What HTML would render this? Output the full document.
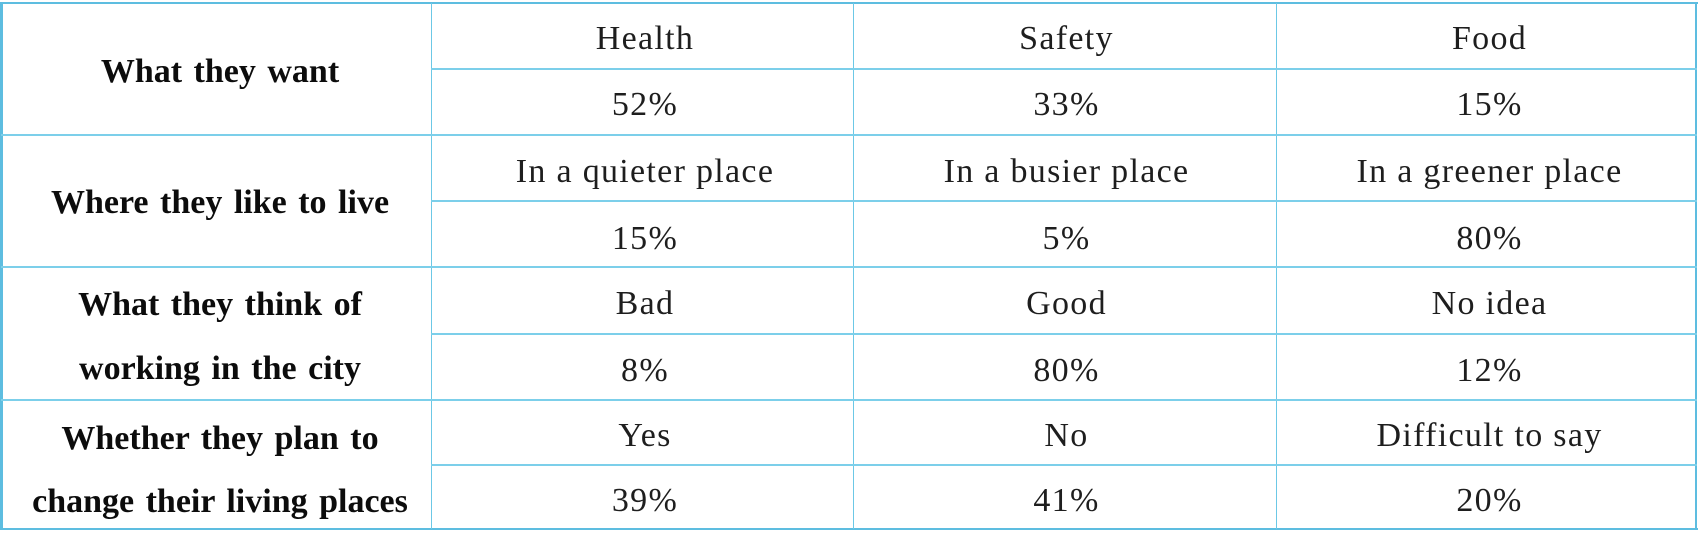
<!DOCTYPE html>
<html>
<head>
<meta charset="utf-8">
<style>
  html, body { margin:0; padding:0; background:#fff; }
  body { width:1700px; height:533px; position:relative; overflow:hidden; }
  .h { position:absolute; background:#7ccfea; height:2px; }
  .v { position:absolute; background:#6cc8e6; width:1px; }
  .ob { position:absolute; background:#5dbde0; }
  .t { position:absolute; font-family:"Liberation Serif", serif; font-size:34px; line-height:34px; height:34px; text-align:center; white-space:nowrap; }
  .r { color:#1e1e1e; letter-spacing:1.3px; }
  .b { color:#0c0c0c; font-weight:bold; word-spacing:3px; left:0; width:440px; }
  .c2 { left:434px; width:422px; }
  .c3 { left:855px; width:423px; }
  .c4 { left:1279px; width:421px; }
</style>
</head>
<body>
<!-- outer border -->
<div class="ob" style="left:0;top:2px;width:1698px;height:2px;"></div>
<div class="ob" style="left:0;top:528px;width:1698px;height:2px;"></div>
<div class="ob" style="left:0;top:2px;width:3px;height:528px;"></div>
<div class="ob" style="left:1695px;top:2px;width:2px;height:528px;"></div>

<!-- vertical inner lines -->
<div class="v" style="left:431px;top:3px;height:526px;"></div>
<div class="v" style="left:853px;top:3px;height:526px;"></div>
<div class="v" style="left:1276px;top:3px;height:526px;"></div>

<!-- full-width group separators -->
<div class="h" style="left:1px;top:134px;width:1696px;"></div>
<div class="h" style="left:1px;top:266px;width:1696px;"></div>
<div class="h" style="left:1px;top:399px;width:1696px;"></div>

<!-- sub-row separators (value columns only) -->
<div class="h" style="left:431px;top:68px;width:1266px;"></div>
<div class="h" style="left:431px;top:200px;width:1266px;"></div>
<div class="h" style="left:431px;top:333px;width:1266px;"></div>
<div class="h" style="left:431px;top:464px;width:1266px;"></div>

<!-- header column -->
<div class="t b" style="top:54.5px;">What they want</div>
<div class="t b" style="top:185.5px;">Where they like to live</div>
<div class="t b" style="top:288px;">What they think of</div>
<div class="t b" style="top:351.5px;">working in the city</div>
<div class="t b" style="top:421.5px;">Whether they plan to</div>
<div class="t b" style="top:484.5px;">change their living places</div>

<!-- row 1 -->
<div class="t r c2" style="top:21.5px;">Health</div>
<div class="t r c3" style="top:21.5px;">Safety</div>
<div class="t r c4" style="top:21.5px;">Food</div>
<div class="t r c2" style="top:87.5px;">52%</div>
<div class="t r c3" style="top:87.5px;">33%</div>
<div class="t r c4" style="top:87.5px;">15%</div>

<!-- row 2 -->
<div class="t r c2" style="top:154.5px;">In a quieter place</div>
<div class="t r c3" style="top:154.5px;">In a busier place</div>
<div class="t r c4" style="top:154.5px;">In a greener place</div>
<div class="t r c2" style="top:221.5px;">15%</div>
<div class="t r c3" style="top:221.5px;">5%</div>
<div class="t r c4" style="top:221.5px;">80%</div>

<!-- row 3 -->
<div class="t r c2" style="top:286.5px;">Bad</div>
<div class="t r c3" style="top:286.5px;">Good</div>
<div class="t r c4" style="top:286.5px;">No idea</div>
<div class="t r c2" style="top:353.5px;">8%</div>
<div class="t r c3" style="top:353.5px;">80%</div>
<div class="t r c4" style="top:353.5px;">12%</div>

<!-- row 4 -->
<div class="t r c2" style="top:418.5px;">Yes</div>
<div class="t r c3" style="top:418.5px;">No</div>
<div class="t r c4" style="top:418.5px;">Difficult to say</div>
<div class="t r c2" style="top:483.5px;">39%</div>
<div class="t r c3" style="top:483.5px;">41%</div>
<div class="t r c4" style="top:483.5px;">20%</div>
</body>
</html>
